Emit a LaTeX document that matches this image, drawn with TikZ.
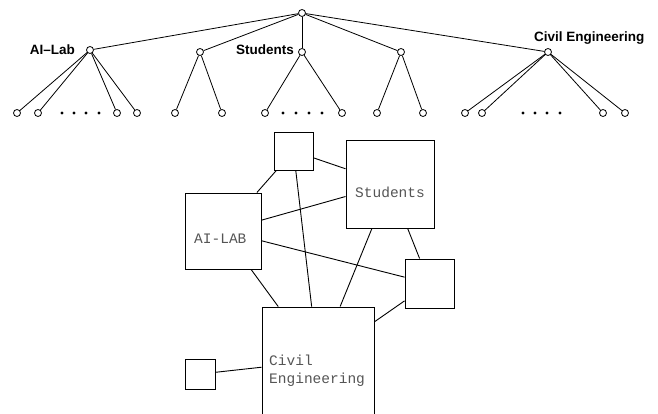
\documentclass[tikz,border=0pt]{standalone}
\usepackage{fontspec}
\setsansfont{Liberation Sans}
\setmonofont{Liberation Mono}
\definecolor{labgray}{RGB}{85,85,85}
\tikzset{
  tn/.style={circle,draw,fill=white,minimum size=7pt,inner sep=0pt,line width=0.8pt},
  dotn/.style={circle,fill=black,minimum size=3.4pt,inner sep=0pt},
  tedge/.style={line width=0.8pt},
  tlabel/.style={font=\sffamily\bfseries\fontsize{13.5}{16}\selectfont,inner sep=0pt},
  box/.style={draw,line width=0.9pt,inner sep=0pt},
  blabel/.style={font=\ttfamily\fontsize{14.5}{18}\selectfont,text=labgray,inner sep=0pt,anchor=base west},
  bedge/.style={line width=0.9pt},
}
\begin{document}
\begin{tikzpicture}[x=1pt,y=-1pt]
\clip (0,0) rectangle (658,414);
% tree
\node[tn] (root) at (302,13) {};
\node[tn] (ai) at (90,50) {};
\node[tn] (n2) at (200,52) {};
\node[tn] (st) at (302,52) {};
\node[tn] (n4) at (401,52) {};
\node[tn] (ce) at (548,52) {};
\node[tlabel,anchor=base east] (ailab) at (75,55) {AI--Lab};
\node[tlabel,anchor=base east] (stlab) at (294,55) {Students};
\node[tlabel,anchor=base west] (celab) at (534,42) {Civil Engineering};
\foreach \n/\x in {a1/17,a2/38,a3/117,a4/137,b1/175,b2/222,s1/265,s2/342,c1/377,c2/423,e1/465,e2/482,e3/603,e4/625}{
  \node[tn] (\n) at (\x,113) {};
}
\foreach \n/\x in {d1/62,d2/74,d3/86,d4/99,d5/283,d6/296,d7/309,d8/322,d9/523,d10/535,d11/547,d12/560}{
  \node[dotn] (\n) at (\x,113) {};
}
\foreach \t in {ai,n2,st,n4,ce} \draw[tedge] (root) -- (\t);
\foreach \l in {a1,a2,a3,a4} \draw[tedge] (ai) -- (\l);
\foreach \l in {b1,b2} \draw[tedge] (n2) -- (\l);
\foreach \l in {s1,s2} \draw[tedge] (st) -- (\l);
\foreach \l in {c1,c2} \draw[tedge] (n4) -- (\l);
\foreach \l in {e1,e2,e3,e4} \draw[tedge] (ce) -- (\l);
% boxes
\node[box,minimum width=39pt,minimum height=38pt] (top) at (293.5,151) {};
\node[box,minimum width=88pt,minimum height=88pt] (stb) at (390,184) {};
\node[box,minimum width=76pt,minimum height=76pt] (aib) at (223,231) {};
\node[box,minimum width=49pt,minimum height=49pt] (rb) at (429.5,283.5) {};
\node[box,minimum width=112pt,minimum height=108pt] (ceb) at (318,361) {};
\node[box,minimum width=30pt,minimum height=30pt] (sb) at (200,374) {};
\node[blabel] (stt) at (355,197) {Students};
\node[blabel] (ait) at (194,243) {AI-LAB};
\node[blabel] (cet1) at (269,365) {Civil};
\node[blabel] (cet2) at (269,383) {Engineering};
\draw[bedge] (top) -- (aib);
\draw[bedge] (top) -- (stb);
\draw[bedge] (top) -- (ceb);
\draw[bedge] (aib) -- (stb);
\draw[bedge] (aib) -- (rb);
\draw[bedge] (aib) -- (ceb);
\draw[bedge] (stb) -- (ceb);
\draw[bedge] (stb) -- (rb);
\draw[bedge] (rb) -- (ceb);
\draw[bedge] (sb) -- (ceb);
\end{tikzpicture}
\end{document}
